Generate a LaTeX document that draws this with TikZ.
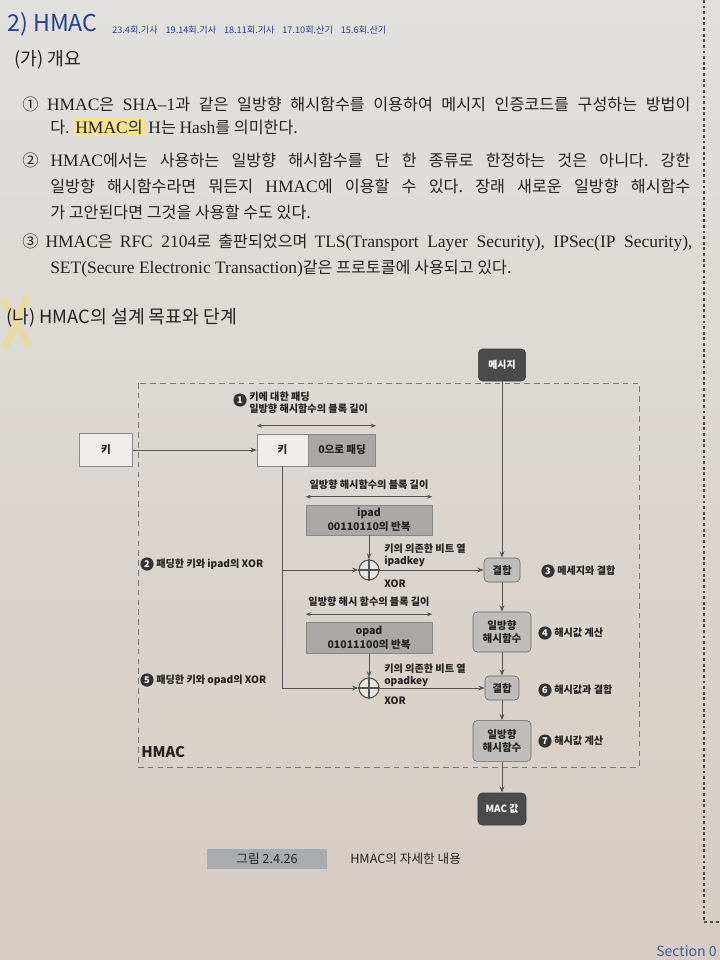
\documentclass[tikz,border=0pt]{standalone}
\usepackage{fontspec}
\setmainfont{Noto Sans CJK KR}
\newfontfamily\lat[Scale=1.08]{Liberation Serif}
\usepackage{tikz}
\usetikzlibrary{arrows.meta,positioning,calc}
\definecolor{paper}{HTML}{E8E6E3}
\definecolor{papertop}{HTML}{E1E0DE}
\definecolor{paperbot}{HTML}{D5CCC3}
\definecolor{headblue}{HTML}{24408E}
\definecolor{boxdark}{HTML}{4B4B4B}
\definecolor{boxmid}{HTML}{BEBDBB}
\definecolor{boxpad}{HTML}{A9A8A6}
\definecolor{boxlight}{HTML}{EEEDEB}
\definecolor{inkline}{HTML}{555555}
\definecolor{inktext}{HTML}{222222}
\definecolor{figtag}{HTML}{A8ACB1}
\definecolor{marker}{HTML}{F4DA6A}
\tikzset{
  hdark/.style={draw=boxdark!80!black,fill=boxdark,text=white,rounded corners=3pt,align=center,inner sep=0pt,font=\fontsize{7}{8}\selectfont\bfseries},
  hmid/.style={draw=inkline!90,fill=boxmid,text=inktext,rounded corners=3pt,align=center,inner sep=0pt,font=\fontsize{7.5}{9}\selectfont\bfseries},
  hpad/.style={draw=inkline!70,fill=boxpad,text=inktext,align=center,inner sep=0pt,font=\fontsize{7.5}{10}\selectfont\bfseries},
  hkey/.style={draw=inkline!70,fill=boxlight,text=inktext,align=center,inner sep=0pt,font=\fontsize{7.5}{9}\selectfont\bfseries},
  hxor/.style={circle,draw=inkline,fill=paper,line width=0.8pt,minimum size=0.5cm,inner sep=0pt},
  hnum/.style={circle,fill=black!80,text=white,minimum size=0.33cm,inner sep=0pt,font=\fontsize{6.5}{7}\selectfont\bfseries},
  hlbl/.style={align=left,inner sep=0pt,text=inktext,font=\fontsize{7.2}{8.6}\selectfont\bfseries},
  harr/.style={-{Stealth[length=1.6mm,width=1.2mm]},line width=0.7pt,draw=inkline},
  hdim/.style={{Stealth[length=1.3mm,width=1mm]}-{Stealth[length=1.3mm,width=1mm]},line width=0.5pt,draw=inkline},
  bodyl/.style={anchor=west,inner sep=0pt,text=inktext,font=\fontsize{11.5}{13}\selectfont}
}
\newcommand{\fillline}[2]{\makebox[#1][s]{#2}}
\newcommand{\hilite}[1]{{\fboxsep=1.5pt\colorbox{marker!75}{#1}}}
\frenchspacing

\begin{document}
\begin{tikzpicture}[x=0.025cm,y=-0.025cm]
  % page in pixels: 720 x 960
  \useasboundingbox (0,0) rectangle (720,960);
  \clip (0,0) rectangle (720,960);
  \shade[top color=papertop,middle color=paper,bottom color=paperbot] (0,0) rectangle (720,960);

  % text part
  \node[anchor=west,inner sep=0pt,text=headblue,font=\fontsize{16.5}{17}\selectfont] (ttl) at (7,24) {2) HMAC};
  \node[anchor=west,inner sep=0pt,text=headblue,font=\fontsize{6.5}{7}\selectfont] (tags) at (112,30) {\fillline{6.85cm}{23.4회.기사 19.14회.기사 18.11회.기사 17.10회.산기 15.6회.산기}};
  \node[anchor=west,inner sep=0pt,text=inktext,font=\fontsize{13}{14}\selectfont] (ga) at (14,60) {(가) 개요};
  \node[bodyl] (p1a) at (22,104) {\fillline{16.7cm}{① {\lat HMAC}은 {\lat SHA–1}과 같은 일방향 해시함수를 이용하여 메시지 인증코드를 구성하는 방법이}};
  \node[bodyl] (p1b) at (50,127) {다. \hilite{{\lat HMAC}의} {\lat H}는 {\lat Hash}를 의미한다.};
  \node[bodyl] (p2a) at (22,160) {\fillline{16.7cm}{② {\lat HMAC}에서는 사용하는 일방향 해시함수를 단 한 종류로 한정하는 것은 아니다. 강한}};
  \node[bodyl] (p2b) at (50,186) {\fillline{16cm}{일방향 해시함수라면 뭐든지 {\lat HMAC}에 이용할 수 있다. 장래 새로운 일방향 해시함수}};
  \node[bodyl] (p2c) at (50,212) {가 고안된다면 그것을 사용할 수도 있다.};
  \node[bodyl] (p3a) at (22,243) {\fillline{16.75cm}{③ {\lat HMAC}은 {\lat RFC 2104}로 출판되었으며 {\lat TLS(Transport Layer Security), IPSec(IP Security),}}};
  \node[bodyl] (p3b) at (50,269) {{\lat SET(Secure Electronic Transaction)}같은 프로토콜에 사용되고 있다.};
  \draw[marker,line width=5pt,opacity=0.45,line cap=round] (4,300) -- (28,344) (26,298) -- (6,346);
  \node[anchor=west,inner sep=0pt,text=inktext,font=\fontsize{13}{14}\selectfont] (na) at (6,318) {(나) HMAC의 설계 목표와 단계};
  \draw[black!70,line width=1pt,dash pattern=on 2pt off 2pt] (704,0) -- (704,922) -- (720,922);

  % diagram
  \draw[inkline!80,dash pattern=on 4pt off 3pt,line width=0.6pt] (138,383) rectangle (639,767);
  \node[anchor=west,inner sep=0pt,text=inktext,font=\fontsize{10.5}{11}\selectfont\bfseries] (hmac) at (141,752) {HMAC};

  \node[hdark,minimum width=1.18cm,minimum height=0.8cm] (msg) at (502,365) {메시지};
  \node[hkey,minimum width=1.325cm,minimum height=0.825cm] (lkey) at (106,450) {키};
  \node[hkey,minimum width=1.275cm,minimum height=0.8cm] (key) at (282.5,450) {키};
  \node[hpad,minimum width=1.675cm,minimum height=0.8cm,right=0pt of key] (zpad) {0으로 패딩};
  \draw[hdim] ([yshift=0.2cm]key.north west) -- ([yshift=0.2cm]zpad.north east);
  \node[hnum] (n1) at (240,400) {1};
  \node[hlbl,anchor=north west] (n1t) at (249,392) {키에 대한 패딩\\일방향 해시함수의 블록 길이};

  \node[hlbl] (ipadw) at (369,485) {일방향 해시함수의 블록 길이};
  \node[hpad,minimum width=3.15cm,minimum height=0.75cm] (ipad) at (369,520) {ipad\\00110110의 반복};
  \draw[hdim] ([yshift=0.2cm]ipad.north west) -- ([yshift=0.2cm]ipad.north east);
  \node[hxor] (xor1) at (369,570) {};
  \draw[inkline,line width=0.8pt] (xor1.north) -- (xor1.south) (xor1.west) -- (xor1.east);
  \node[hlbl,anchor=west] (ik) at (384,555) {키의 의존한 비트 열\\ipadkey};
  \node[hlbl,anchor=west] (ix) at (384,584) {XOR};

  \node[hlbl] (opadw) at (369,602) {일방향 해시 함수의 블록 길이};
  \node[hpad,minimum width=3.15cm,minimum height=0.775cm] (opad) at (369,638) {opad\\01011100의 반복};
  \draw[hdim] ([yshift=0.2cm]opad.north west) -- ([yshift=0.2cm]opad.north east);
  \node[hxor] (xor2) at (369,688) {};
  \draw[inkline,line width=0.8pt] (xor2.north) -- (xor2.south) (xor2.west) -- (xor2.east);
  \node[hlbl,anchor=west] (ok) at (384,675) {키의 의존한 비트 열\\opadkey};
  \node[hlbl,anchor=west] (ox) at (384,701) {XOR};

  \node[hmid,minimum width=0.9cm,minimum height=0.6cm] (comb1) at (502,570) {결합};
  \node[hmid,minimum width=1.45cm,minimum height=1cm] (hash1) at (502,632) {일방향\\해시함수};
  \node[hmid,minimum width=0.85cm,minimum height=0.6cm] (comb2) at (502,688) {결합};
  \node[hmid,minimum width=1.45cm,minimum height=1.02cm] (hash2) at (502,741) {일방향\\해시함수};
  \node[hdark,minimum width=1.2cm,minimum height=0.8cm] (mac) at (502,809) {MAC 값};

  \node[hnum] (n2) at (147,564) {2};
  \node[hlbl,anchor=west] (n2t) at (156,564) {패딩한 키와 ipad의 XOR};
  \node[hnum] (n3) at (548,571) {3};
  \node[hlbl,anchor=west] (n3t) at (557,571) {메세지와 결합};
  \node[hnum] (n4) at (545,633) {4};
  \node[hlbl,anchor=west] (n4t) at (554,633) {해시값 계산};
  \node[hnum] (n5) at (147,680) {5};
  \node[hlbl,anchor=west] (n5t) at (156,680) {패딩한 키와 opad의 XOR};
  \node[hnum] (n6) at (545,690) {6};
  \node[hlbl,anchor=west] (n6t) at (554,690) {해시값과 결합};
  \node[hnum] (n7) at (545,741) {7};
  \node[hlbl,anchor=west] (n7t) at (554,741) {해시값 계산};

  \draw[harr] (lkey.east) -- (key.west);
  \draw[harr] (msg.south) -- (comb1.north);
  \draw[harr] (key.south) |- (xor2.west);
  \draw[harr] (key.south |- xor1.west) -- (xor1.west);
  \draw[harr] (ipad.south) -- (xor1.north);
  \draw[harr] (opad.south) -- (xor2.north);
  \draw[harr] (xor1.east) -- (comb1.west);
  \draw[harr] (xor2.east) -- (comb2.west);
  \draw[harr] (comb1.south) -- (hash1.north);
  \draw[harr] (hash1.south) -- (comb2.north);
  \draw[harr] (comb2.south) -- (hash2.north);
  \draw[harr] (hash2.south) -- (mac.north);

  % caption
  \node[fill=figtag,minimum width=2.975cm,minimum height=0.5cm,inner sep=0pt,text=inktext,font=\fontsize{9}{10}\selectfont] (figno) at (267,859) {그림 2.4.26};
  \node[anchor=west,inner sep=0pt,text=inktext,font=\fontsize{9}{10}\selectfont] (figcap) at (350,859) {HMAC의 자세한 내용};
  \node[anchor=west,inner sep=0pt,text=headblue!85,font=\fontsize{10}{11}\selectfont] (sec) at (656,951) {Section 0};
\end{tikzpicture}
\end{document}
